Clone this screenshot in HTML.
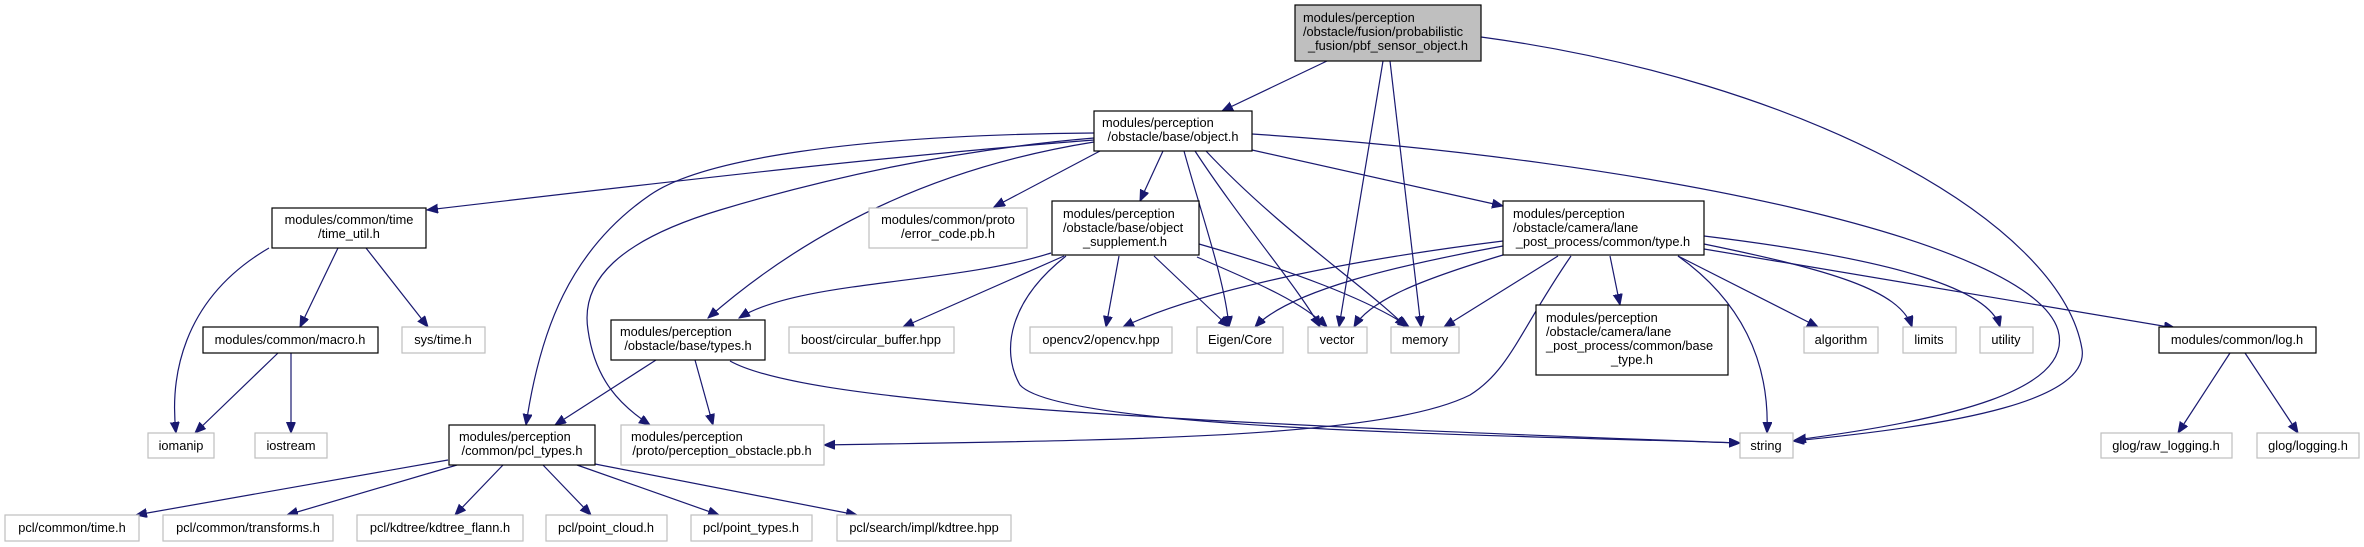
<!DOCTYPE html>
<html><head><meta charset="utf-8"><style>
html,body{margin:0;padding:0;background:#fff;}
svg{display:block;}
text{font-family:"Liberation Sans",Arial,sans-serif;font-size:12.8px;fill:#000;}
.e{fill:none;stroke:#191970;stroke-width:1.2;marker-end:url(#a);}
.g{fill:#fff;stroke:#bfbfbf;stroke-width:1.2;}
.b{fill:#fff;stroke:#000;stroke-width:1.2;}
</style></head><body>
<svg width="2364" height="547" viewBox="0 0 2364 547" xmlns="http://www.w3.org/2000/svg">
<defs><marker id="a" markerUnits="userSpaceOnUse" markerWidth="12" markerHeight="10" refX="11" refY="4.5" orient="auto"><path d="M0,0 L11,4.5 L0,9 Z" fill="#191970" stroke="#191970"/></marker></defs>

<!-- edges -->
<path class="e" d="M1327,61 L1222,111"/>
<path class="e" d="M1383,61 L1339,327"/>
<path class="e" d="M1390,61 L1421,327"/>
<path class="e" d="M1481,37 C1800,80 2060,220 2082,349 C2090,400 1960,425 1793,441"/>

<path class="e" d="M1094,140 C900,155 700,178 427,210"/>
<path class="e" d="M1094,133 C850,135 700,160 650,195 C570,250 540,330 526,425"/>
<path class="e" d="M1094,138 C950,150 820,180 720,210 C620,240 580,280 588,330 C595,380 620,405 650,425"/>
<path class="e" d="M1094,142 C950,165 820,220 708,318"/>
<path class="e" d="M1100,151 L994,207"/>
<path class="e" d="M1163,151 L1140,201"/>
<path class="e" d="M1184,151 C1200,210 1225,280 1229,327"/>
<path class="e" d="M1195,151 C1240,220 1300,290 1320,327"/>
<path class="e" d="M1206,151 C1280,230 1370,290 1406,327"/>
<path class="e" d="M1252,150 L1503,206"/>
<path class="e" d="M1252,134 C1650,160 2030,240 2058,330 C2075,390 1950,420 1795,440"/>

<path class="e" d="M269,248 C180,300 170,380 176,433"/>
<path class="e" d="M338,248 L300,327"/>
<path class="e" d="M366,248 L428,327"/>
<path class="e" d="M278,353 L195,433"/>
<path class="e" d="M291,353 L291,433"/>

<path class="e" d="M656,360 L555,425"/>
<path class="e" d="M695,360 L713,425"/>
<path class="e" d="M730,361 C800,400 1100,420 1740,443"/>

<path class="e" d="M1051,253 C950,285 800,280 739,318"/>
<path class="e" d="M1064,256 L903,327"/>
<path class="e" d="M1119,256 L1106,327"/>
<path class="e" d="M1154,256 L1229,327"/>
<path class="e" d="M1197,257 C1250,280 1300,300 1327,327"/>
<path class="e" d="M1199,244 C1290,270 1370,300 1409,327"/>
<path class="e" d="M1066,256 C1010,300 1000,350 1020,385 C1060,430 1500,435 1740,443"/>

<path class="e" d="M1503,241 C1350,260 1200,290 1123,327"/>
<path class="e" d="M1503,246 C1400,265 1290,290 1255,327"/>
<path class="e" d="M1503,255 C1420,280 1370,300 1354,327"/>
<path class="e" d="M1558,256 L1444,327"/>
<path class="e" d="M1571,256 C1520,330 1510,370 1470,395 C1380,440 1100,440 824,445"/>
<path class="e" d="M1610,256 L1620,305"/>
<path class="e" d="M1678,256 C1740,300 1770,360 1767,433"/>
<path class="e" d="M1678,256 L1818,327"/>
<path class="e" d="M1704,244 C1830,270 1900,290 1912,327"/>
<path class="e" d="M1704,236 C1900,260 1990,290 2000,327"/>
<path class="e" d="M1704,249 L2175,328"/>

<path class="e" d="M2230,353 L2178,433"/>
<path class="e" d="M2245,353 L2298,433"/>

<path class="e" d="M448,460 L136,515"/>
<path class="e" d="M457,465 L287,515"/>
<path class="e" d="M503,465 L455,515"/>
<path class="e" d="M543,465 L591,515"/>
<path class="e" d="M577,465 L719,515"/>
<path class="e" d="M595,464 L857,515"/>

<!-- nodes -->
<rect x="1295" y="5" width="186" height="56" fill="#bfbfbf" stroke="#000" stroke-width="1.2"/>
<text x="1303" y="22">modules/perception</text>
<text x="1303" y="36">/obstacle/fusion/probabilistic</text>
<text x="1388" y="50" text-anchor="middle">_fusion/pbf_sensor_object.h</text>

<rect class="b" x="1094" y="111" width="158" height="40"/>
<text x="1102" y="127">modules/perception</text>
<text x="1173" y="141" text-anchor="middle">/obstacle/base/object.h</text>

<rect class="b" x="272" y="208" width="154" height="40"/>
<text x="349" y="224" text-anchor="middle">modules/common/time</text>
<text x="349" y="238" text-anchor="middle">/time_util.h</text>

<rect class="g" x="869" y="208" width="158" height="40"/>
<text x="948" y="224" text-anchor="middle">modules/common/proto</text>
<text x="948" y="238" text-anchor="middle">/error_code.pb.h</text>

<rect class="b" x="1052" y="201" width="147" height="54"/>
<text x="1063" y="218">modules/perception</text>
<text x="1063" y="232">/obstacle/base/object</text>
<text x="1125" y="246" text-anchor="middle">_supplement.h</text>

<rect class="b" x="1503" y="201" width="201" height="54"/>
<text x="1513" y="218">modules/perception</text>
<text x="1513" y="232">/obstacle/camera/lane</text>
<text x="1603" y="246" text-anchor="middle">_post_process/common/type.h</text>

<rect class="b" x="203" y="327" width="175" height="26"/>
<text x="290" y="344" text-anchor="middle">modules/common/macro.h</text>
<rect class="g" x="402" y="327" width="83" height="26"/>
<text x="443" y="344" text-anchor="middle">sys/time.h</text>

<rect class="b" x="611" y="320" width="154" height="40"/>
<text x="620" y="336">modules/perception</text>
<text x="688" y="350" text-anchor="middle">/obstacle/base/types.h</text>

<rect class="g" x="789" y="327" width="165" height="26"/>
<text x="871" y="344" text-anchor="middle">boost/circular_buffer.hpp</text>
<rect class="g" x="1030" y="327" width="142" height="26"/>
<text x="1101" y="344" text-anchor="middle">opencv2/opencv.hpp</text>
<rect class="g" x="1197" y="327" width="86" height="26"/>
<text x="1240" y="344" text-anchor="middle">Eigen/Core</text>
<rect class="g" x="1308" y="327" width="59" height="26"/>
<text x="1337" y="344" text-anchor="middle">vector</text>
<rect class="g" x="1391" y="327" width="68" height="26"/>
<text x="1425" y="344" text-anchor="middle">memory</text>

<rect class="b" x="1536" y="305" width="192" height="70"/>
<text x="1546" y="322">modules/perception</text>
<text x="1546" y="336">/obstacle/camera/lane</text>
<text x="1546" y="350">_post_process/common/base</text>
<text x="1632" y="364" text-anchor="middle">_type.h</text>

<rect class="g" x="1804" y="327" width="74" height="26"/>
<text x="1841" y="344" text-anchor="middle">algorithm</text>
<rect class="g" x="1903" y="327" width="53" height="26"/>
<text x="1929" y="344" text-anchor="middle">limits</text>
<rect class="g" x="1980" y="327" width="53" height="26"/>
<text x="2006" y="344" text-anchor="middle">utility</text>
<rect class="b" x="2159" y="327" width="157" height="26"/>
<text x="2237" y="344" text-anchor="middle">modules/common/log.h</text>

<rect class="g" x="148" y="433" width="66" height="25"/>
<text x="181" y="450" text-anchor="middle">iomanip</text>
<rect class="g" x="255" y="433" width="72" height="25"/>
<text x="291" y="450" text-anchor="middle">iostream</text>

<rect class="b" x="449" y="425" width="146" height="40"/>
<text x="459" y="441">modules/perception</text>
<text x="522" y="455" text-anchor="middle">/common/pcl_types.h</text>

<rect class="g" x="621" y="425" width="203" height="40"/>
<text x="631" y="441">modules/perception</text>
<text x="722" y="455" text-anchor="middle">/proto/perception_obstacle.pb.h</text>

<rect class="g" x="1740" y="433" width="53" height="25"/>
<text x="1766" y="450" text-anchor="middle">string</text>
<rect class="g" x="2101" y="433" width="131" height="25"/>
<text x="2166" y="450" text-anchor="middle">glog/raw_logging.h</text>
<rect class="g" x="2257" y="433" width="102" height="25"/>
<text x="2308" y="450" text-anchor="middle">glog/logging.h</text>

<rect class="g" x="5" y="515" width="134" height="26"/>
<text x="72" y="532" text-anchor="middle">pcl/common/time.h</text>
<rect class="g" x="163" y="515" width="170" height="26"/>
<text x="248" y="532" text-anchor="middle">pcl/common/transforms.h</text>
<rect class="g" x="357" y="515" width="166" height="26"/>
<text x="440" y="532" text-anchor="middle">pcl/kdtree/kdtree_flann.h</text>
<rect class="g" x="546" y="515" width="121" height="26"/>
<text x="606" y="532" text-anchor="middle">pcl/point_cloud.h</text>
<rect class="g" x="691" y="515" width="121" height="26"/>
<text x="751" y="532" text-anchor="middle">pcl/point_types.h</text>
<rect class="g" x="837" y="515" width="174" height="26"/>
<text x="924" y="532" text-anchor="middle">pcl/search/impl/kdtree.hpp</text>
</svg>
</body></html>
